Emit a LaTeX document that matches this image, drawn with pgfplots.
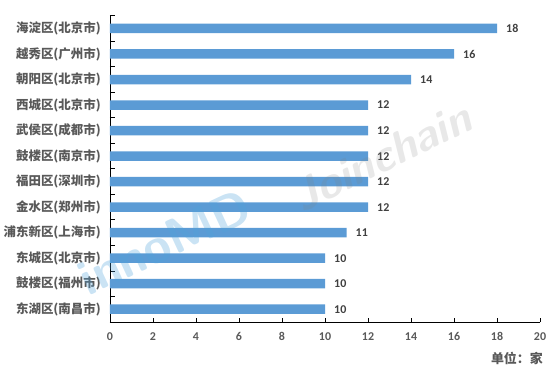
\documentclass[border=0pt]{standalone}
\usepackage{fontspec}
\setmainfont{Carlito}
\newfontfamily\cjk{Noto Sans CJK SC}
\usepackage{pgfplots}
\pgfplotsset{compat=1.18}
\definecolor{barblue}{HTML}{5B9BD5}
\definecolor{labgray}{HTML}{595959}
\definecolor{numdark}{HTML}{404040}
\definecolor{wmblue}{HTML}{4FA3DB}
\begin{document}
\begin{tikzpicture}
\useasboundingbox (-110bp,-61bp) rectangle (444bp,322bp);
\begin{axis}[
  at={(0,0)}, anchor=south west,
  scale only axis, width=430bp, height=306.3bp,
  xbar, bar width=9.5bp,
  xmin=0, xmax=20, ymin=-0.5, ymax=11.5, y dir=reverse,
  axis x line*=bottom, axis y line*=left,
  axis line style={line width=0.9bp, black},
  xtick={0,2,...,20},
  tick align=inside,
  major tick length=4.5bp,
  minor tick length=5bp,
  tick style={line width=0.9bp, black},
  ytick={0,...,11},
  major y tick style={draw=none},
  minor ytick={-0.5,0.5,...,11.5},
  yticklabels={海淀区(北京市),越秀区(广州市),朝阳区(北京市),西城区(北京市),武侯区(成都市),鼓楼区(南京市),福田区(深圳市),金水区(郑州市),浦东新区(上海市),东城区(北京市),鼓楼区(福州市),东湖区(南昌市)},
  yticklabel style={font=\cjk\bfseries\fontsize{12.5}{13}\selectfont, text=labgray, inner sep=0pt, anchor=east, xshift=-9bp},
  xticklabel style={font=\bfseries\fontsize{12}{12}\selectfont, text=labgray, inner sep=0pt, anchor=north, yshift=-10.5bp},
  /pgf/number format/assume math mode=true,
  nodes near coords,
  every node near coord/.append style={font=\bfseries\fontsize{12}{12}\selectfont, text=numdark, anchor=west, inner sep=0pt, xshift=9bp},
  clip=false,
]
\addplot[fill=barblue, draw=none] coordinates {
(18,0) (16,1) (14,2) (12,3) (12,4) (12,5) (12,6) (12,7) (11,8) (10,9) (10,10) (10,11)
};
\end{axis}
\node[anchor=east, inner sep=0pt, text=labgray, font=\cjk\bfseries\fontsize{13}{13}\selectfont] at (433bp,-36.5bp) {单位：家};
% watermark
\node[rotate=26, text=gray, opacity=0.18, font=\sffamily\bfseries\itshape\fontsize{45}{45}\selectfont] at (272bp,165bp) {Joinchain};
\node[rotate=25, text=wmblue, opacity=0.3, font=\sffamily\bfseries\fontsize{50}{50}\selectfont] at (55bp,80bp) {innoMD};
\end{tikzpicture}
\end{document}
